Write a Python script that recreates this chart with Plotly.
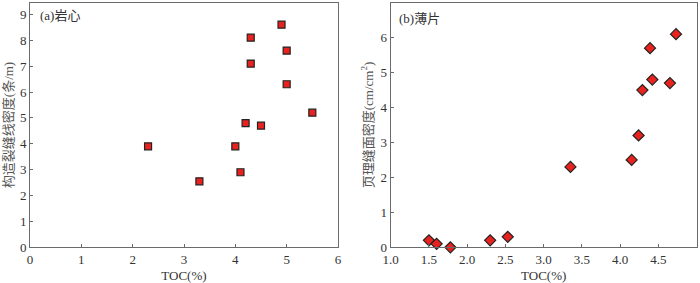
import plotly.graph_objects as go

# Panel (a) core
core_toc = [2.3, 3.3, 4.0, 4.1, 4.2, 4.3, 4.3, 4.5, 4.9, 5.0, 5.0, 5.5]
core_density = [3.9, 2.55, 3.9, 2.9, 4.8, 7.1, 8.1, 4.7, 8.6, 7.6, 6.3, 5.2]

# Panel (b) thin section
thin_toc = [1.5, 1.6, 1.78, 2.3, 2.53, 3.35, 4.15, 4.24, 4.29, 4.39, 4.42, 4.65, 4.73]
thin_density = [0.2, 0.1, 0.0, 0.2, 0.3, 2.3, 2.5, 3.2, 4.5, 5.7, 4.8, 4.7, 6.1]

xticks_a = [0, 1, 2, 3, 4, 5, 6]
yticks_a = [0, 1, 2, 3, 4, 5, 6, 7, 8, 9]
xticks_b = [1.0, 1.5, 2.0, 2.5, 3.0, 3.5, 4.0, 4.5, 5.0]
yticks_b = [0, 1, 2, 3, 4, 5, 6, 7]

FONT = "Liberation Serif, Noto Sans CJK SC, serif"
AXC = "#6b6b6b"
TXT = "#333333"

fig = go.Figure()
fig.add_trace(go.Scatter(x=core_toc, y=core_density, mode="markers",
                         marker=dict(symbol="square", size=7, color="#e8231f",
                                     line=dict(color="#222222", width=1.2)),
                         xaxis="x", yaxis="y", showlegend=False, cliponaxis=False))
fig.add_trace(go.Scatter(x=thin_toc, y=thin_density, mode="markers",
                         marker=dict(symbol="diamond", size=8.5, color="#e8231f",
                                     line=dict(color="#222222", width=1.2)),
                         xaxis="x2", yaxis="y2", showlegend=False, cliponaxis=False))

common = dict(showgrid=False, zeroline=False, showline=True, linecolor=AXC, linewidth=1,
              mirror=True, ticks="inside", ticklen=3, tickcolor=AXC, automargin=False,
              tickfont=dict(family=FONT, size=13, color=TXT))

fig.update_layout(
    width=700, height=283,
    margin=dict(l=0, r=0, t=0, b=0),
    paper_bgcolor="white", plot_bgcolor="white",
    font=dict(family=FONT, color=TXT),
    xaxis=dict(domain=[30/700, 338/700], range=[0, 6], tickvals=xticks_a,
               title=dict(text="TOC(%)", font=dict(family=FONT, size=13, color=TXT), standoff=6),
               anchor="y", **common),
    yaxis=dict(domain=[1-247.3/283, 1-2.7/283], range=[0, 9.45], tickvals=yticks_a,
               title=dict(text="构造裂缝线密度(条/m)", font=dict(family=FONT, size=13, color="#555555"), standoff=3),
               anchor="x", **common),
    xaxis2=dict(domain=[390.7/700, 696.7/700], range=[1.0, 5.0], tickvals=xticks_b,
                ticktext=[f"{v:.1f}" for v in xticks_b],
                title=dict(text="TOC(%)", font=dict(family=FONT, size=13, color=TXT), standoff=6),
                anchor="y2", **common),
    yaxis2=dict(domain=[1-247.3/283, 1-2.7/283], range=[0, 7], tickvals=yticks_b,
                title=dict(text="页理缝面密度(cm/cm<sup>2</sup>)", font=dict(family=FONT, size=13, color="#555555"), standoff=4),
                anchor="x2", **common),
    annotations=[
        dict(text="(a)岩心", xref="paper", yref="paper", x=38/700, y=1-15/283,
             xanchor="left", yanchor="middle", showarrow=False,
             font=dict(family=FONT, size=13, color=TXT)),
        dict(text="(b)薄片", xref="paper", yref="paper", x=397/700, y=1-18/283,
             xanchor="left", yanchor="middle", showarrow=False,
             font=dict(family=FONT, size=13, color=TXT)),
    ],
)

fig.write_html("out.html", config={"displayModeBar": False},
               post_script="document.body.style.margin='0';document.body.style.overflow='hidden';")
